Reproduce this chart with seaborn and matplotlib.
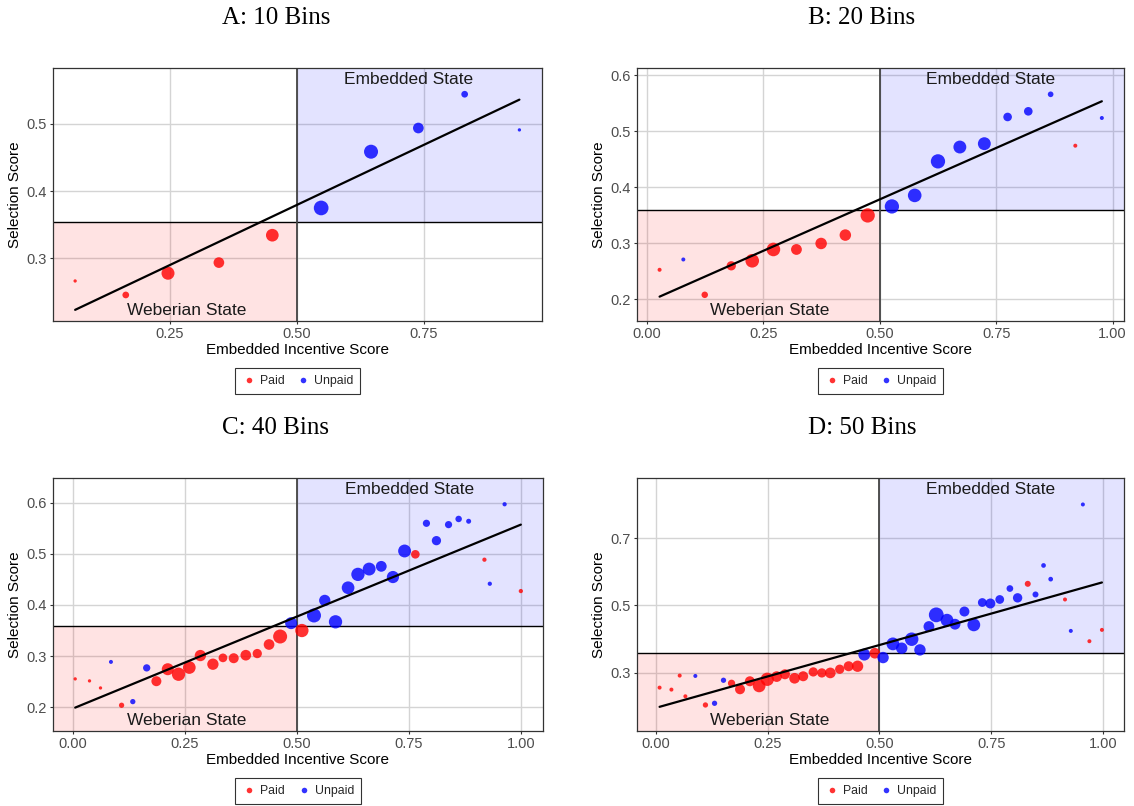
import numpy as np
import pandas as pd
import matplotlib
matplotlib.use("Agg")
import matplotlib.pyplot as plt
from matplotlib.lines import Line2D
from matplotlib.patches import Rectangle
import seaborn as sns

# ---------------- data: binned scores by pay status ----------------
# Panel A: 10 bins
a_paid_x = [0.0645, 0.164, 0.247, 0.347, 0.452]
a_paid_y = [0.2665, 0.2457, 0.278, 0.2938, 0.3345]
a_paid_n = [11, 45, 169, 114, 161]
a_unpaid_x = [0.548, 0.646, 0.739, 0.830, 0.9376]
a_unpaid_y = [0.375, 0.4586, 0.4938, 0.544, 0.491]
a_unpaid_n = [216, 196, 114, 45, 11]

# Panel B: 20 bins
b_paid_x = [0.027, 0.124, 0.181, 0.226, 0.2715, 0.321, 0.374, 0.426, 0.474, 0.920]
b_paid_y = [0.2525, 0.2078, 0.2596, 0.2686, 0.2888, 0.2888, 0.2995, 0.3145, 0.3496, 0.4742]
b_paid_n = [16, 42, 86, 185, 185, 117, 132, 132, 204, 16]
b_unpaid_x = [0.078, 0.526, 0.575, 0.625, 0.672, 0.7246, 0.7746, 0.819, 0.867, 0.977]
b_unpaid_y = [0.2709, 0.3657, 0.3854, 0.4462, 0.4718, 0.4778, 0.5255, 0.5356, 0.566, 0.5237]
b_unpaid_n = [16, 204, 185, 204, 166, 166, 74, 74, 32, 16]

# Panel C: 40 bins
c_paid_x = [0.0056, 0.0375, 0.062, 0.109, 0.1866, 0.212, 0.236, 0.260, 0.2847, 0.3126,
            0.335, 0.359, 0.386, 0.4115, 0.4378, 0.4625, 0.511, 0.764, 0.918, 0.9992]
c_paid_y = [0.2555, 0.2516, 0.2378, 0.204, 0.251, 0.2744, 0.2646, 0.2777, 0.3011, 0.2842,
            0.2966, 0.2959, 0.3018, 0.305, 0.3227, 0.3383, 0.350, 0.4989, 0.4884, 0.4271]
c_paid_n = [11, 11, 11, 28, 100, 144, 177, 161, 128, 128,
            76, 100, 114, 86, 114, 196, 177, 74, 18, 18]
c_unpaid_x = [0.0853, 0.134, 0.165, 0.487, 0.538, 0.562, 0.586, 0.614, 0.636, 0.661,
              0.688, 0.714, 0.740, 0.7887, 0.811, 0.838, 0.8605, 0.8828, 0.930, 0.963]
c_unpaid_y = [0.2887, 0.2111, 0.277, 0.3644, 0.3794, 0.4088, 0.3670, 0.4336, 0.4597, 0.4701,
              0.4754, 0.4545, 0.5054, 0.5595, 0.5256, 0.5569, 0.568, 0.5635, 0.4414, 0.5967]
c_unpaid_n = [16, 28, 53, 144, 196, 128, 177, 161, 177, 166,
              117, 149, 166, 52, 86, 52, 42, 25, 18, 18]

# Panel D: 50 bins
d_paid_x = [0.008, 0.0345, 0.053, 0.0657, 0.1106, 0.169, 0.188, 0.210, 0.2308, 0.249,
            0.270, 0.2885, 0.310, 0.3293, 0.3518, 0.371, 0.390, 0.411, 0.431, 0.451,
            0.4896, 0.8317, 0.915, 0.9696, 0.9976]
d_paid_y = [0.2553, 0.2494, 0.2911, 0.2295, 0.2037, 0.2682, 0.2504, 0.2742, 0.2603, 0.2801,
            0.2881, 0.295, 0.2831, 0.2891, 0.302, 0.299, 0.299, 0.310, 0.3189, 0.3189,
            0.3576, 0.564, 0.5174, 0.3933, 0.427]
d_paid_n = [16, 16, 16, 16, 28, 53, 100, 100, 161, 177,
            114, 100, 114, 100, 86, 86, 114, 86, 100, 128,
            114, 36, 16, 16, 16]
d_unpaid_x = [0.088, 0.131, 0.151, 0.466, 0.508, 0.530, 0.5497, 0.572, 0.5905, 0.6106,
              0.627, 0.651, 0.669, 0.690, 0.711, 0.730, 0.748, 0.769, 0.7917, 0.809,
              0.849, 0.867, 0.883, 0.928, 0.955]
d_unpaid_y = [0.290, 0.2087, 0.2772, 0.3536, 0.3447, 0.3854, 0.3725, 0.3993, 0.3675, 0.437,
              0.4717, 0.4558, 0.4439, 0.4816, 0.4419, 0.5084, 0.5055, 0.5174, 0.550, 0.5223,
              0.5323, 0.6186, 0.5779, 0.424, 0.800]
d_unpaid_n = [16, 28, 28, 144, 130, 164, 130, 182, 130, 117,
              219, 164, 117, 100, 164, 77, 100, 77, 45, 88,
              36, 22, 22, 16, 16]

# Fitted line (intercept, slope) and selection-score cutoff per panel
fit_intercept = {"A": 0.2005, "B": 0.1946, "C": 0.1974, "D": 0.1952}
fit_slope = {"A": 0.3578, "B": 0.3674, "C": 0.3598, "D": 0.3737}
score_cutoff = {"A": 0.3548, "B": 0.3586, "C": 0.3586, "D": 0.3576}
incentive_cutoff = 0.5

titles = {"A": "A: 10 Bins", "B": "B: 20 Bins", "C": "C: 40 Bins", "D": "D: 50 Bins"}
x_ticks = {"A": [0.25, 0.50, 0.75], "B": [0.0, 0.25, 0.5, 0.75, 1.0],
           "C": [0.0, 0.25, 0.5, 0.75, 1.0], "D": [0.0, 0.25, 0.5, 0.75, 1.0]}
y_ticks = {"A": [0.3, 0.4, 0.5], "B": [0.2, 0.3, 0.4, 0.5, 0.6],
           "C": [0.2, 0.3, 0.4, 0.5, 0.6], "D": [0.3, 0.5, 0.7]}
x_lims = {"A": (0.021, 0.982), "B": (-0.0215, 1.0246), "C": (-0.0439, 1.0486), "D": (-0.0425, 1.047)}
y_lims = {"A": (0.207, 0.583), "B": (0.161, 0.613), "C": (0.1537, 0.648), "D": (0.1263, 0.8787)}

panels = {
    "A": (a_paid_x, a_paid_y, a_paid_n, a_unpaid_x, a_unpaid_y, a_unpaid_n),
    "B": (b_paid_x, b_paid_y, b_paid_n, b_unpaid_x, b_unpaid_y, b_unpaid_n),
    "C": (c_paid_x, c_paid_y, c_paid_n, c_unpaid_x, c_unpaid_y, c_unpaid_n),
    "D": (d_paid_x, d_paid_y, d_paid_n, d_unpaid_x, d_unpaid_y, d_unpaid_n),
}

# ---------------- styling ----------------
sns.set_theme(style="white")
plt.rcParams["font.family"] = ["Liberation Sans", "DejaVu Sans"]

W, H = 1134, 806
fig = plt.figure(figsize=(W / 100, H / 100), dpi=100)
fig.patch.set_facecolor("white")

# axes boxes in pixels: left, top, right, bottom
boxes = {"A": (53, 68, 542, 321), "B": (637, 68, 1124, 321),
         "C": (53, 478, 543, 731), "D": (637, 478, 1124, 731)}
title_pos = {"A": (276, 18), "B": (862, 18), "C": (276, 428), "D": (862, 428)}

palette = {"Paid": "#ff0000", "Unpaid": "#0000ff"}
area_per_n = 0.5184  # marker area (pt^2) per observation

for key, (px, py, pn, ux, uy, un) in panels.items():
    l, t, r, b = boxes[key]
    ax = fig.add_axes([l / W, 1 - b / H, (r - l) / W, (b - t) / H])
    ax.set_facecolor("white")

    df = pd.DataFrame({
        "x": list(px) + list(ux),
        "y": list(py) + list(uy),
        "n": list(pn) + list(un),
        "status": ["Paid"] * len(px) + ["Unpaid"] * len(ux),
    }).sort_values("x").reset_index(drop=True)

    x0, x1 = x_lims[key]
    y0, y1 = y_lims[key]
    ax.set_xlim(x0, x1)
    ax.set_ylim(y0, y1)
    ax.set_xticks(x_ticks[key])
    ax.set_yticks(y_ticks[key])
    ax.set_xticklabels([f"{v:.2f}" for v in x_ticks[key]])
    ax.set_yticklabels([f"{v:.1f}" for v in y_ticks[key]])
    ax.grid(True, color="#d4d4d4", linewidth=1.0, zorder=0)
    ax.set_axisbelow(True)

    cut = score_cutoff[key]
    ax.add_patch(Rectangle((x0, y0), incentive_cutoff - x0, cut - y0,
                           facecolor="#ff0000", alpha=0.11, edgecolor="none", zorder=1))
    ax.add_patch(Rectangle((incentive_cutoff, cut), x1 - incentive_cutoff, y1 - cut,
                           facecolor="#0000ff", alpha=0.11, edgecolor="none", zorder=1))
    ax.axhline(cut, color="black", linewidth=1.0, zorder=2)
    ax.axvline(incentive_cutoff, color="#444444", linewidth=1.3, zorder=2)

    nmin, nmax = df["n"].min(), df["n"].max()
    sns.scatterplot(data=df, x="x", y="y", hue="status", size="n", palette=palette,
                    sizes=(area_per_n * nmin, area_per_n * nmax), size_norm=(nmin, nmax),
                    alpha=0.8, edgecolor="none", linewidth=0, legend=False, ax=ax, zorder=3)

    xs = np.array([df["x"].min(), df["x"].max()])
    ax.plot(xs, fit_intercept[key] + fit_slope[key] * xs, color="black", linewidth=1.6, zorder=4)

    ax.text(0.727, 0.954, "Embedded State", transform=ax.transAxes, ha="center", va="center",
            fontsize=12.5, color="#1a1a1a", zorder=5)
    ax.text(0.273, 0.043, "Weberian State", transform=ax.transAxes, ha="center", va="center",
            fontsize=12.5, color="#1a1a1a", zorder=5)

    for s in ax.spines.values():
        s.set_color("#333333")
        s.set_linewidth(0.9)
    ax.tick_params(axis="both", which="major", length=2.5, width=0.8, color="#333333",
                   labelsize=10.5, labelcolor="#4d4d4d", pad=2, bottom=True, left=True)
    ax.set_xlabel("Embedded Incentive Score", fontsize=11, color="black", labelpad=1)
    ax.set_ylabel("Selection Score", fontsize=11, color="black", labelpad=3)

    handles = [Line2D([], [], marker="o", linestyle="", color=palette["Paid"], alpha=0.8,
                      markersize=4, markeredgewidth=0),
               Line2D([], [], marker="o", linestyle="", color=palette["Unpaid"], alpha=0.8,
                      markersize=4, markeredgewidth=0)]
    leg = ax.legend(handles, ["Paid", "Unpaid"], loc="center", bbox_to_anchor=(0.5, -0.237),
                    ncol=2, frameon=True, fancybox=False, edgecolor="black", fontsize=8.8,
                    handletextpad=0.3, columnspacing=0.9, borderpad=0.55, handlelength=1.2)
    leg.get_frame().set_linewidth(0.8)

    tx, ty = title_pos[key]
    fig.text(tx / W, 1 - ty / H, titles[key], ha="center", va="center",
             fontsize=18, family=["Liberation Serif", "DejaVu Serif"], color="black")

fig.savefig("out.png", dpi=100, facecolor="white")
